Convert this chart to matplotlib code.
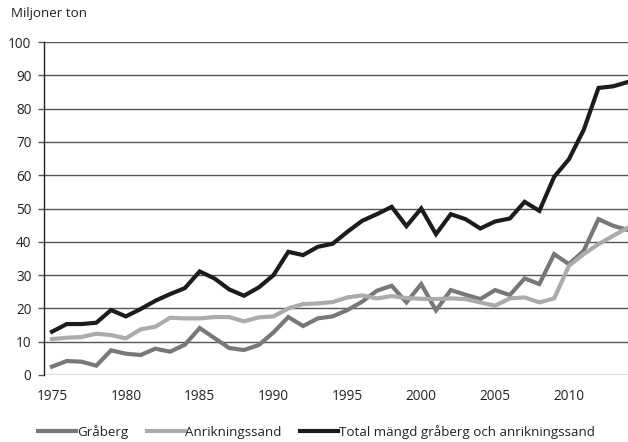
import matplotlib
matplotlib.use("Agg")
import matplotlib.pyplot as plt

plt.rcParams['font.family'] = ['Open Sans', 'DejaVu Sans']

years = list(range(1975, 2015))
graberg = [2.5, 4.2, 4.0, 2.8, 7.4, 6.4, 6.0, 7.9, 7.0, 9.1,
           14.1, 11.1, 8.1, 7.5, 9.0, 12.8, 17.4, 14.7, 17.0, 17.6,
           19.5, 22.0, 25.3, 26.8, 21.8, 27.3, 19.4, 25.5, 24.1, 22.8,
           25.5, 24.0, 29.0, 27.3, 36.3, 33.3, 37.3, 46.8, 44.8, 43.5]
anrikningssand = [10.8, 11.2, 11.4, 12.4, 12.0, 11.0, 13.7, 14.5, 17.2, 17.0,
                  17.0, 17.4, 17.4, 16.1, 17.3, 17.6, 20.0, 21.3, 21.5, 21.9,
                  23.3, 23.9, 23.0, 23.7, 23.1, 22.9, 22.8, 23.0, 22.8, 21.8,
                  20.8, 23.0, 23.3, 21.8, 23.0, 32.8, 36.3, 39.3, 41.8, 44.3]
total = [13.0, 15.3, 15.3, 15.7, 19.5, 17.6, 19.8, 22.3, 24.3, 26.1,
         31.1, 29.0, 25.7, 23.8, 26.3, 30.0, 37.0, 36.0, 38.5, 39.4,
         43.0, 46.3, 48.3, 50.5, 44.7, 50.0, 42.3, 48.3, 46.8, 44.0,
         46.1, 47.0, 52.0, 49.3, 59.5, 64.8, 73.6, 86.2, 86.7, 88.0]

labels = ['Gråberg', 'Anrikningssand', 'Total mängd gråberg och anrikningssand']
colors = ['#787878', '#ababab', '#1c1c1c']
yticks = list(range(0, 101, 10))
xticks = list(range(1975, 2011, 5))

fig = plt.figure(figsize=(6.28, 4.42), dpi=100)
ax = fig.add_axes([44/628, 1-375/442, 1-44/628, (375-42)/442])

for vals, lab, col in zip([graberg, anrikningssand, total], labels, colors):
    ax.plot(years, vals, color=col, lw=3.0, label=lab, solid_joinstyle='miter', zorder=3)

ax.set_xlim(1974.46, 2014.0)
ax.set_ylim(0, 100)
ax.set_yticks(yticks)
ax.set_xticks(xticks)
for y in yticks:
    ax.axhline(y, color='#555555', lw=1.0, zorder=1)
for s in ['top', 'right', 'bottom']:
    ax.spines[s].set_visible(False)
ax.spines['left'].set_color('#222222')
ax.spines['left'].set_linewidth(1.0)
ax.tick_params(axis='y', length=4, width=1.0, color='#555555', labelsize=9.8, pad=5, labelcolor='#222222')
ax.tick_params(axis='x', length=0, labelsize=9.8, pad=10, labelcolor='#222222')

fig.text(11/628, 1-14/442, 'Miljoner ton', fontsize=9.6, va='center', ha='left', color='#222222')

leg = fig.legend(loc='center', bbox_to_anchor=(0.504, 1-432/442), ncol=3, frameon=False,
                 fontsize=9.6, handlelength=2.85, handletextpad=0.05, columnspacing=1.4)
for t in leg.get_texts():
    t.set_color('#222222')

fig.savefig('out.png', dpi=100)
